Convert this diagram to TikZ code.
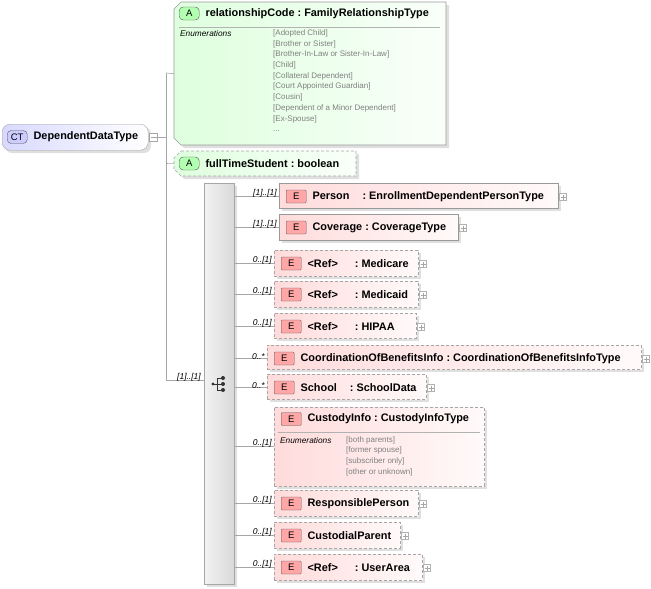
\documentclass[tikz,border=0pt]{standalone}
\usepackage{fontspec}
\setmainfont{Liberation Sans}
\begin{document}
\begin{tikzpicture}[x=1pt,y=-1pt,
  conn/.style={draw=gray!70,line width=0.6pt},
  solidb/.style={draw=gray!80,line width=0.7pt},
  dashb/.style={draw=gray!70,dash pattern=on 3pt off 2pt,line width=0.7pt},
  pinkfill/.style={left color=red!14,right color=red!2},
  greenfill/.style={left color=green!13,right color=green!2},
  badge/.style={draw=gray!70!black,rounded corners=1pt,minimum width=20pt,minimum height=13pt,inner sep=0pt,font=\fontsize{9.5}{9.5}\selectfont},
  mult/.style={font=\fontsize{8.5}{8.5}\selectfont\itshape,anchor=south east,inner sep=1pt},
  lbl/.style={font=\fontsize{10.9}{12}\bfseries\selectfont,anchor=west,inner sep=0pt},
  enum/.style={font=\fontsize{8}{10.7}\selectfont,text=gray,anchor=north west,inner sep=0pt,align=left},
  enumh/.style={font=\fontsize{8.3}{9}\selectfont\itshape,anchor=north west,inner sep=0pt},
  plus/.style={draw=gray!60,minimum size=7pt,inner sep=0pt,fill=white}]
\useasboundingbox (0,0) rectangle (651,589);
\newcommand{\plusbox}[2]{\node[plus] at (#1,#2) {}; \draw[gray!70,line width=0.4pt] (#1-2.5,#2) -- (#1+2.5,#2) (#1,#2-2.5) -- (#1,#2+2.5);}
\newcommand{\cln}{\hspace{3pt}:\hspace{3pt}}
% element macro: name, x1,y1,x2,y2, style, text, mult
\newcommand{\elem}[8]{%
  \fill[gray!25] (#2+3,#3+3) rectangle (#4+3,#5+3);
  \node[#6,pinkfill,anchor=north west,minimum width=#4-#2,minimum height=#5-#3,inner sep=0pt] (#1) at (#2,#3) {};
  \node[badge,fill=red!35,anchor=west] (#1b) at (#2+7,#3+13.5) {E};
  \node[lbl] at (#1b.east) [xshift=6pt] {#7};
  \draw[conn] (seq.east |- #1b) -- (#1.west |- #1b);
  \node[mult] at (#1.west |- #1b) [yshift=-2pt,xshift=-1pt] {#8};
  \plusbox{#4+5}{#3+14}}
% CT node
\fill[gray!25,rounded corners=7pt] (5,127) rectangle (151,153);
\node[draw=gray!70,rounded corners=8pt,left color=blue!15,right color=white,minimum width=146pt,minimum height=26pt,anchor=north west,inner sep=0pt] (ct) at (2,124) {};
\node[badge,fill=blue!20,anchor=west,rounded corners=4pt] (ctb) at (7,137) {CT};
\node[lbl] at (ctb.east) [xshift=6pt] {DependentDataType};
\node[draw=gray!70,minimum size=8pt,inner sep=0pt,fill=white] (minus) at (153.5,137.5) {};
\draw[gray!70] (150.5,137.5) -- (156.5,137.5);
\coordinate (trunk) at (166,137.5);
\draw[conn] (minus.east) -- (trunk);
\draw[conn] (166,73) -- (166,380);
% relationshipCode
\fill[gray!25] (184,5) -- (449,5) -- (449,148) -- (184,148) -- (177,141) -- (177,12) -- cycle;
\draw[solidb,greenfill] (181,2) -- (446,2) -- (446,145) -- (181,145) -- (174,138) -- (174,9) -- cycle;
\node[inner sep=0pt,minimum width=272pt,minimum height=143pt,anchor=north west] (rc) at (174,2) {};
\draw[conn] (166,73) -- (rc.west);
\node[badge,fill=green!30,anchor=west,rounded corners=4pt] (rcb) at (179,13.5) {A};
\node[lbl] at (rcb.east) [xshift=6pt] {relationshipCode\cln FamilyRelationshipType};
\draw[gray!60] (179,27) -- (440,27);
\node[enumh] at (180,30) {Enumerations};
\node[enum] at (273,29.5) {{[Adopted Child]}\\{[Brother or Sister]}\\{[Brother-In-Law or Sister-In-Law]}\\{[Child]}\\{[Collateral Dependent]}\\{[Court Appointed Guardian]}\\{[Cousin]}\\{[Dependent of a Minor Dependent]}\\{[Ex-Spouse]}\\...};
% fullTimeStudent
\fill[gray!25] (184,154) -- (359,154) -- (359,179) -- (184,179) -- (177,172) -- (177,161) -- cycle;
\draw[dashb,greenfill] (181,151) -- (356,151) -- (356,176) -- (181,176) -- (174,169) -- (174,158) -- cycle;
\node[inner sep=0pt,minimum width=182pt,minimum height=25pt,anchor=north west] (ft) at (174,151) {};
\draw[conn] (166,163.5) -- (ft.west);
\node[badge,fill=green!30,anchor=west,rounded corners=4pt] (ftb) at (179,163.5) {A};
\node[lbl] at (ftb.east) [xshift=6pt] {fullTimeStudent\cln boolean};
% sequence bar
\fill[gray!25] (207,186) rectangle (237,587);
\node[draw=gray!70,left color=gray!10,right color=gray!30,minimum width=30pt,minimum height=401pt,anchor=north west,inner sep=0pt] (seq) at (204,183) {};
\draw[conn] (166,380) -- (seq.west |- 0,380);
\node[mult] at (204,380) [yshift=-2pt,xshift=-2pt] {[1]..[1]};
% sequence icon
\begin{scope}[shift={(219,384)}]
\fill[black!80] (-6,0) circle (1.6pt);
\draw[black!80,line width=0.9pt] (-6,0) -- (-2,0) (-2,-6) -- (-2,6) (-2,-6) -- (4,-6) (-2,0) -- (4,0) (-2,6) -- (4,6);
\fill[black!80] (4,-6) circle (2pt) (4,0) circle (2pt) (4,6) circle (2pt);
\end{scope}
% elements
\elem{person}{279}{183}{558}{208}{solidb}{Person\hspace{10pt}\cln EnrollmentDependentPersonType}{[1]..[1]}
\elem{coverage}{279}{214}{458}{240}{solidb}{Coverage\cln CoverageType}{[1]..[1]}
\elem{medicare}{274}{250}{418}{276}{dashb}{<Ref>\hspace{14pt}\cln Medicare}{0..[1]}
\elem{medicaid}{274}{281}{418}{307}{dashb}{<Ref>\hspace{14pt}\cln Medicaid}{0..[1]}
\elem{hipaa}{274}{313}{416}{338}{dashb}{<Ref>\hspace{14pt}\cln HIPAA}{0..[1]}
\elem{cob}{267}{345}{641}{369}{dashb}{CoordinationOfBenefitsInfo\cln CoordinationOfBenefitsInfoType}{0..*}
\elem{school}{267}{374}{426}{399}{dashb}{School\hspace{10pt}\cln SchoolData}{0..*}
% CustodyInfo
\fill[gray!25] (277,410) rectangle (487,489);
\node[dashb,pinkfill,anchor=north west,minimum width=210pt,minimum height=79pt,inner sep=0pt] (cust) at (274,407) {};
\node[badge,fill=red!35,anchor=west] (custb) at (281,419) {E};
\node[lbl] at (custb.east) [xshift=6pt] {CustodyInfo\cln CustodyInfoType};
\draw[gray!60] (278,432) -- (480,432);
\draw[conn] (seq.east |- 0,446) -- (cust.west |- 0,446);
\node[mult] at (274,446) [yshift=-2pt,xshift=-1pt] {0..[1]};
\node[enumh] at (280,437) {Enumerations};
\node[enum] at (346,436) {{[both parents]}\\{[former spouse]}\\{[subscriber only]}\\{[other or unknown]}};
\elem{resp}{274}{490}{418}{516}{dashb}{ResponsiblePerson}{0..[1]}
\elem{custp}{274}{522}{400}{548}{dashb}{CustodialParent}{0..[1]}
\elem{user}{274}{554}{422}{580}{dashb}{<Ref>\hspace{14pt}\cln UserArea}{0..[1]}
\end{tikzpicture}
\end{document}
